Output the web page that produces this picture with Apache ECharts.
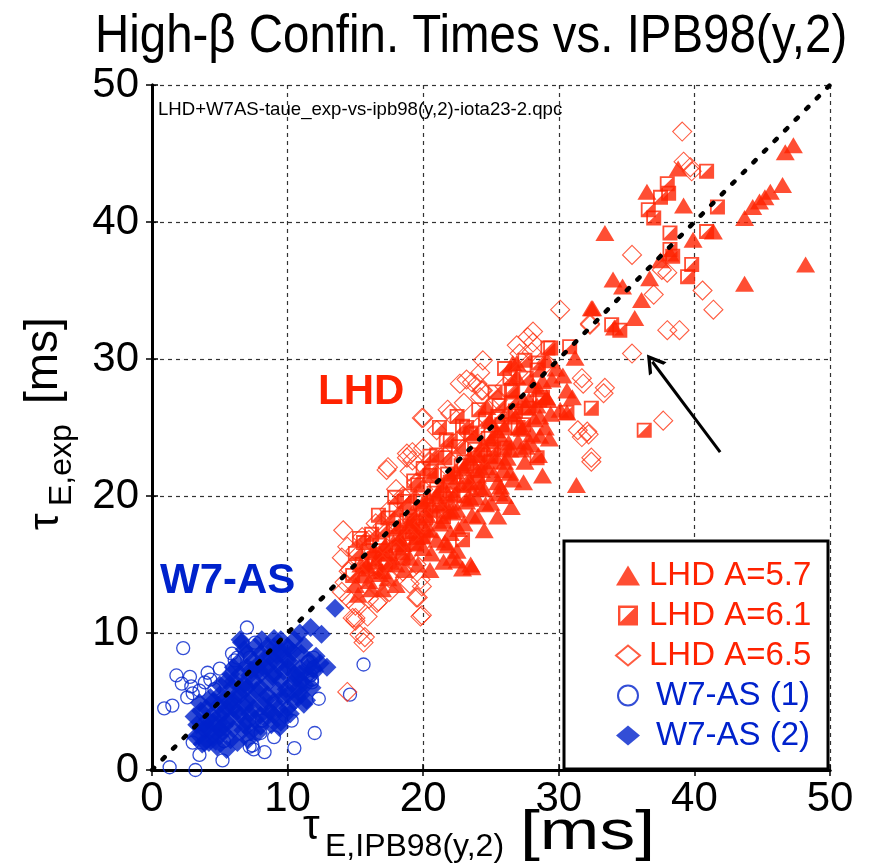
<!DOCTYPE html>
<html><head><meta charset="utf-8">
<script src="https://cdn.jsdelivr.net/npm/echarts@6/dist/echarts.min.js"></script>
<style>html,body{margin:0;padding:0;background:#fff}#c{width:869px;height:867px}</style>
</head><body><div id="c"></div>
<script>
// ---- data (tau_IPB98, tau_exp) in ms ----
const lhd57 = [[47.3,45.6],[46.7,45.1],[46.5,42.7],[45.6,42.2],[45.2,41.8],[44.8,41.5],[44.3,41.1],[43.7,40.3],[48.2,36.9],[43.7,35.5],[41.4,39.3],[39.9,38.7],[39.2,41.2],[38.8,43.9],[36.5,42.2],[33.4,39.2],[34.0,35.8],[34.7,35.3],[36.1,34.3],[32.5,33.7],[34.1,32.3],[35.6,33.0],[36.7,35.9],[37.5,37.2],[38.2,37.7],[31.2,30.1],[26.9,29.7],
[31.3,20.8],[23.5,15.0],[21.8,16.4],[22.5,15.3],[23.6,14.8],[28.8,21.5],[30.6,26.1],[32.4,33.7],[30.3,28.8],[30.6,27.7],[31.0,27.2],[29.1,27.2],[28.4,26.6],[28.6,25.8],[30.1,26.3],[27.1,25.0],[26.4,23.4],[26.4,21.7],[27.4,21.0],[24.7,26.5],[24.9,25.5],[24.7,22.1],[25.7,20.7],[26.6,29.7],[26.9,28.7],[29.1,29.9],[22.1,15.5],[22.9,14.7],
[16.5,15.2],[17.0,14.5],[17.5,15.8],[18.0,15.0],[18.5,16.5],[19.0,15.5],[19.5,17.0],[20.0,16.2],[20.5,17.5],[21.0,16.8],[21.5,18.2],[22.0,17.3],[22.5,19.0],[23.0,18.0],[23.5,19.8],[24.0,18.5],[24.5,20.5],[25.0,19.5],[25.5,21.0],[26.0,20.0],[19.0,18.0],[20.0,19.5],[21.0,20.0],[22.0,21.5],[23.0,22.0],[24.0,23.0],[25.0,24.0],[26.0,25.0],[27.0,24.0],[28.0,24.5],[27.5,26.5],[28.5,27.8],[29.5,28.5],[22.5,16.0],[21.5,15.2],[20.5,14.6],[18.0,13.5],[17.0,13.2],[16.0,13.8],[24.5,17.5],[25.5,18.5],[26.5,19.2],[27.5,22.5],[28.5,23.0],[29.0,25.0],[23.5,21.0],[22.0,19.5],[26.0,22.5],[24.0,21.5],
[15.0,13.5],[15.5,14.2],[16.0,14.7],[16.8,15.8],[17.8,16.6],[18.8,17.3],[19.8,18.2],[20.8,19.0],[21.8,20.2],[22.8,20.8],[23.8,22.2],[24.8,23.0],[25.8,24.2],[26.8,25.8],[27.8,27.0],[28.8,28.4],
[15.2,12.8],[16.2,13.2],[17.4,14.0],[18.6,14.6],[19.6,15.0],[20.6,15.8],[21.6,16.6],[22.6,17.6],[23.6,18.6],[24.6,19.4],[25.6,20.2],[26.6,21.2],[27.6,23.6],[28.6,24.4],[29.4,26.0],
[15.8,14.9],[16.8,14.3],[17.6,15.2],[18.4,15.9],[19.3,16.6],[20.2,17.6],[21.2,18.0],[22.2,18.8],[23.2,19.6],[24.2,20.6],[25.2,21.6],[26.2,22.8],[27.2,23.4],[28.2,25.6],[29.2,27.0],
[18.2,17.8],[19.2,18.8],[20.4,19.8],[21.4,20.8],[22.4,21.8],[23.4,22.8],[24.4,23.8],[25.4,24.8],[26.4,26.0],[27.4,27.0],
[17.2,16.4],[18.3,16.9],[19.4,17.8],[20.3,18.6],[21.3,19.3],[22.3,20.1],[23.3,20.9],[24.3,21.9],[25.3,22.9],[26.3,23.9],[27.3,24.9],[16.3,15.9],[15.4,15.0],[19.9,17.1],[21.9,18.9],[23.9,19.9],[25.9,21.9],[27.9,23.9],[29.3,24.2],[28.1,28.1],[29.8,29.3]];
const lhd61 = [[40.9,43.7],[38.0,42.8],[38.1,42.1],[37.5,41.8],[36.6,40.9],[37.0,40.3],[41.7,41.1],[38.2,39.2],[40.9,39.3],[38.2,38.0],[38.4,37.5],[39.8,36.9],[39.5,36.0],[33.9,32.5],[34.5,32.1],[30.8,30.9],[29.2,30.8],[28.5,29.7],
[32.4,26.4],[36.3,24.8],[29.4,30.8],[26.0,29.3],[26.5,27.7],[28.8,27.2],[30.6,26.1],[21.2,25.0],[28.4,22.8],[27.4,25.2],[22.5,25.8],[23.2,25.0],[22.9,16.8],
[16.0,16.0],[17.0,17.5],[18.0,17.0],[19.0,18.5],[20.0,19.0],[21.0,20.5],[22.0,21.0],[23.0,22.5],[24.0,23.0],[25.0,24.5],[20.0,22.0],[21.0,23.0],[22.0,24.0],[19.0,20.0],[18.0,19.0],[17.0,16.0],[18.5,15.5],[20.0,17.0],[21.5,18.5],[23.0,20.0],[24.0,21.0],[25.0,22.5],[26.0,23.5],[27.0,25.0],[26.5,26.8],[25.5,25.8],[23.5,24.5],[20.5,21.5],[16.5,14.5],[15.5,15.0],[19.5,16.5],
[15.0,15.8],[16.2,17.2],[17.4,18.4],[18.6,19.6],[19.6,20.8],[20.6,21.8],[21.6,22.8],[22.6,23.6],[23.6,24.6],[24.6,25.6],[25.6,26.6],[26.6,27.6],[27.6,28.6],[28.4,29.2],
[16.8,16.4],[17.8,17.6],[18.8,18.2],[19.8,19.6],[20.8,20.2],[21.8,21.6],[22.8,22.2],[23.8,23.4],[24.8,24.2],[25.8,25.2],[26.8,26.2],[27.8,26.4],[28.6,27.0],[14.8,14.2],[15.6,16.6],[16.4,15.4],[17.2,15.0],[18.2,16.2],[19.2,17.4],[20.2,18.4],[21.2,19.4],[22.2,20.4],[23.2,21.4],[24.2,22.4],[25.2,23.4],
[15.3,16.9],[16.7,18.6],[17.9,19.9],[19.3,21.1],[20.5,22.9],[21.7,24.1],[22.9,25.1],[24.1,26.3],[25.3,27.6],[26.4,28.6],[27.5,29.9]];
const lhd65 = [[39.1,46.6],[39.2,44.4],[39.7,44.0],[39.8,43.7],[35.4,37.6],[30.1,33.6],[32.3,32.6],[37.0,34.7],[40.6,35.0],[41.4,33.6],[38.0,32.1],[38.9,32.1],[35.4,30.4],[38.0,36.3],[37.6,36.5],
[37.7,25.5],[32.4,22.5],[31.7,28.6],[33.4,27.9],[33.3,27.5],[31.4,24.8],[32.2,24.5],
[28.1,32.0],[27.7,31.6],[26.9,31.0],[28.1,31.2],[27.1,30.4],[24.4,29.9],[24.2,29.0],[23.2,28.5],[24.0,28.2],[24.4,27.7],[24.2,27.2],[20.0,25.7],[21.8,26.3],[29.1,29.7],[32.4,22.8],[32.1,24.7],[31.7,24.3],[18.8,23.1],[19.2,22.6],[31.8,28.2],[32.3,32.5],
[17.4,22.1],[19.9,25.7],[19.2,23.2],[18.8,22.8],[19.8,13.9],[19.8,11.2],[19.6,12.6],[15.0,11.1],[16.6,12.2],[19.0,13.6],[23.6,28.3],[24.3,27.7],[22.7,28.2],
[15.3,9.9],[15.0,10.9],[15.9,11.2],[16.7,12.3],[19.9,13.4],[19.5,12.6],[19.9,11.3],[17.3,21.9],[14.4,5.7],[15.7,9.7],[15.6,9.3],[14.8,11.1],
[14.1,17.5],[14.4,16.3],[14.0,15.5],[14.6,14.6],[14.2,13.7],
[14.5,14.5],[15.0,16.0],[15.5,17.0],[16.0,15.0],[16.5,18.0],[17.0,16.5],[17.5,19.0],[18.0,18.0],[18.5,20.0],[19.0,19.0],[19.5,21.0],[20.0,20.5],[20.5,22.5],[21.0,21.5],[21.5,23.0],[22.0,22.5],[22.5,24.0],[23.0,23.5],[15.5,14.0],[16.5,13.5],[17.5,14.0],[18.5,14.5],[19.5,15.0],[14.0,13.0],[14.5,12.5],[15.0,12.0],[16.0,16.8],[17.0,17.8],[18.0,20.5],[19.0,21.8],[20.0,23.5],[21.0,24.8],[22.0,26.0],[23.0,26.8],[24.0,25.0],[25.0,26.5],[26.0,28.0],[27.0,29.0],[28.0,30.5],[24.5,23.0],[25.5,27.0],[16.0,12.5],[17.5,13.0],[21.0,19.0],[22.0,20.0],[23.0,21.0],[20.0,18.0],[19.0,17.0],[18.0,16.0],[17.0,15.0]];
const w7as1 = [[7.0,10.4],[2.3,8.9],[1.8,6.9],[2.8,6.8],[4.1,7.1],[5.0,7.4],[5.9,8.5],[6.3,8.2],[2.9,6.1],[2.6,5.3],[1.5,4.7],[4.3,6.6],[3.5,5.8],[11.9,8.2],[11.5,7.9],[11.9,7.5],[11.8,6.6],[11.7,6.9],[15.6,7.7],[14.6,5.5],[10.3,3.6],[8.1,3.6],[8.0,2.7],[12.0,2.7],[7.4,1.8],[7.5,1.5],[7.2,1.7],[10.5,1.6],[5.2,0.7],[3.5,1.1],[3.0,2.0],[3.2,0.0],[1.3,0.2],[7.6,9.3],[7.2,8.2],[6.1,8.0],[3.0,5.6],[11.8,6.4],[0.9,4.5],[5.3,2.1],[9.0,2.4],[12.3,5.2],[3.9,6.4],[4.6,5.9],[2.2,6.3],[8.3,1.3]];
const w7as2 = [[13.5,11.8],[12.5,9.9],[11.7,10.4],[10.9,10.0],[6.6,9.3],[12.4,7.8],[5.5,1.5],[3.9,2.0],[3.2,2.4],[12.9,7.5],[7.0,8.5],[6.5,9.5],
[4,3],[4.5,3.5],[5,4],[5.5,4.5],[6,5],[6.5,5.5],[7,6],[7.5,6.5],[8,7],[8.5,7.5],[9,8],[9.5,8.5],[10,9],[4,4.5],[5,5.5],[6,6.5],[7,7.5],[8,8.5],[9,9],[5,2.5],[6,3],[7,3.5],[8,4],[9,5],[10,5.5],[11,6.5],[11.5,7.5],[10.5,7],[9.5,6.5],[8.5,5.5],[7.5,4.5],[6.5,4],[5.5,3.5],[4.5,2.5],[3.8,3],[6,7.5],[5.5,6.5],[4.5,5],[8,3.2],[9,4],[10,4.5],[10.5,5],[11,5.5],[8.5,9],[9.5,9.5],[7.5,8],[10,7.5],[11,8.5],[6.5,7],[7,5],[8,6],[9,7],[10,8],[6,4.5],[5,3],[3.5,2.5],[4.2,2],[5.8,2.2],[7.3,2.8],[8.8,3.3],[9.8,4],[11.2,4.8],[11.8,6],[10.8,6],[12,7.2],[3.5,4.9],[4.8,1.7],[9.4,3.1],
[3.7,1.9],[4.7,2.1],[6.3,2.0],[7.1,2.2],[3.3,3.3],[4.3,2.9],[5.2,2.8],[6.7,2.9],[7.8,2.7],[3.1,3.9],[4.1,3.7],[4.9,3.4],[5.9,3.8],[6.8,3.3],[7.6,3.7],[8.5,3.9],[9.5,3.5],[3.6,4.3],[5.3,4.2],[6.3,4.3],[7.2,4.1],[8.2,4.7],[9.3,4.5],[10.2,4.1],[4.3,5.3],[5.4,5.2],[6.2,5.4],[7.4,5.3],[8.4,5.1],[9.6,5.3],[10.7,5.4],[11.4,5.1],[5.0,6.2],[5.9,6.0],[6.8,6.3],[7.7,5.8],[8.6,6.4],[9.3,5.8],[10.3,6.3],[11.3,6.2],[5.8,7.0],[7.2,6.9],[7.9,7.3],[8.9,6.8],[9.7,7.2],[10.6,6.7],[11.5,6.9],[12.1,8.3],[6.3,7.8],[7.7,7.6],[8.3,8.1],[9.3,7.7],[10.2,7.9],[10.9,7.4],[11.6,8.0],[6.8,8.8],[7.6,9.0],[8.7,8.3],[9.4,8.8],[10.4,8.6],[11.2,9.1],[8.1,9.5],[9.0,9.6],[10.5,9.5],
[4.4,4.0],[5.7,5.0],[6.6,6.0],[7.3,7.3],[8.2,7.5],[9.2,8.4],[10.1,8.9],[4.9,4.7],[3.9,3.4],[5.3,3.2],[6.9,4.6],[8.7,4.3],[9.9,5.9],[10.9,7.0],[11.9,7.4]];
const diagonal = [[0,0],[50,50]];
const arrowFrom = [41.9,23.2], arrowTo = [36.9,29.8];
const axisTicks = [0,10,20,30,40,50];
const seriesNames = ['LHD A=5.7','LHD A=6.1','LHD A=6.5','W7-AS (1)','W7-AS (2)'];
const titleText = 'High-β Confin. Times vs. IPB98(y,2)';
const fileText = 'LHD+W7AS-taue_exp-vs-ipb98(y,2)-iota23-2.qpc';

const RED = '#ff2200', BLUE = '#0022cc';
const FONT = "'Liberation Sans',Arial,sans-serif";
const HALFSQ = 'path://M0,0L10,0L10,10L0,10Z M1.2,1.2L1.2,8.3L8.3,1.2Z';
const CHEVRON = 'path://M0,10L5,0L10,10L8.2,10L5,3.6L1.8,10Z';

const chart = echarts.init(document.getElementById('c'), null, {renderer:'canvas'});
const axisCommon = {
  type:'value', min:axisTicks[0], max:axisTicks[axisTicks.length-1], interval:10,
  axisLine:{show:true, lineStyle:{color:'#000', width:3}},
  axisTick:{show:true, inside:true, length:6, lineStyle:{color:'#000', width:1.5}},
  splitLine:{show:true, lineStyle:{color:'#333', width:1.2, type:[4,4]}},
  axisLabel:{color:'#000', fontFamily:FONT, fontSize:42}
};
function txt(x, y, text, size, opts) {
  return Object.assign({type:'text', z:16, x:x, y:y,
    style:{text:text, fontFamily:FONT, fontSize:size, fill:'#000', textAlign:'left', textVerticalAlign:'middle'}}, opts || {});
}
const option = {
  animation:false,
  backgroundColor:'#fff',
  grid:{left:152, right:39, top:85, bottom:97, show:false},
  xAxis:[Object.assign({}, axisCommon, {position:'bottom', axisLabel:Object.assign({}, axisCommon.axisLabel, {margin:8})}),
         Object.assign({}, axisCommon, {position:'top', axisLabel:{show:false}, splitLine:{show:false}})],
  yAxis:[Object.assign({}, axisCommon, {position:'left', axisLabel:Object.assign({}, axisCommon.axisLabel, {margin:13})}),
         Object.assign({}, axisCommon, {position:'right', axisLabel:{show:false}, splitLine:{show:false}})],
  legend:{
    orient:'vertical', left:610, top:554, itemGap:7, itemWidth:24, itemHeight:20, z:20,
    textStyle:{fontFamily:FONT, fontSize:33},
    data:[
      {name:seriesNames[0], textStyle:{color:RED, padding:[0,0,0,4]}},
      {name:seriesNames[1], textStyle:{color:RED, padding:[0,0,0,4]}},
      {name:seriesNames[2], textStyle:{color:RED, padding:[0,0,0,4]}},
      {name:seriesNames[3], textStyle:{color:BLUE, padding:[0,0,0,11]}},
      {name:seriesNames[4], textStyle:{color:BLUE, padding:[0,0,0,11]}}
    ]
  },
  graphic:[
    {type:'rect', z:15, shape:{x:564, y:541, width:264, height:228}, style:{fill:'#fff', stroke:'#000', lineWidth:3}},
    txt(95, 37, titleText, 53, {scaleX:0.895}),
    txt(158, 110, fileText, 18.6),
    {type:'text', z:16, x:318, y:392, style:{text:'LHD', fontFamily:FONT, fontWeight:'bold', fontSize:42, fill:RED, textVerticalAlign:'middle'}},
    {type:'text', z:16, x:160, y:581, style:{text:'W7-AS', fontFamily:FONT, fontWeight:'bold', fontSize:42, fill:BLUE, textVerticalAlign:'middle'}},
    // x-axis title pieces
    txt(303, 827, 'τ', 42),
    txt(325, 847, 'E,IPB98(y,2)', 32),
    txt(520, 834, '[ms]', 55, {scaleX:1.3}),
    // y-axis title pieces (rotated, reading upward)
    txt(46, 530, 'τ', 42, {rotation:Math.PI/2}),
    txt(62, 506, 'E,exp', 32, {rotation:Math.PI/2}),
    txt(44, 404, '[ms]', 46, {rotation:Math.PI/2})
  ],
  series:[
    {name:seriesNames[3], type:'scatter', data:w7as1, symbol:'circle', symbolSize:13,
      itemStyle:{color:'rgba(255,255,255,0)', borderColor:BLUE, borderWidth:1.3}, z:2},
    {name:seriesNames[4], type:'scatter', data:w7as2, symbol:'diamond', symbolSize:19,
      itemStyle:{color:BLUE}, z:3},
    {name:seriesNames[0], type:'scatter', data:lhd57, symbol:'triangle', symbolSize:[19,16],
      itemStyle:{color:RED}, z:4},
    {name:seriesNames[1], type:'scatter', data:lhd61, symbol:HALFSQ, symbolSize:15,
      itemStyle:{color:RED}, z:5},
    {name:seriesNames[2], type:'scatter', data:lhd65, symbol:'diamond', symbolSize:19,
      itemStyle:{color:'rgba(255,255,255,0)', borderColor:'#ff3311', borderWidth:1.1}, z:6},
    {name:'diag', type:'line', data:diagonal, symbol:'none', z:10, silent:true,
      lineStyle:{color:'#000', width:4.5, type:[3,12], cap:'round'},
      markLine:{silent:true, symbol:['none', CHEVRON], symbolSize:[22,18], label:{show:false},
        lineStyle:{color:'#000', width:3, type:'solid'},
        data:[[{coord:arrowFrom},{coord:arrowTo}]]}}
  ]
};
chart.setOption(option);
</script></body></html>
